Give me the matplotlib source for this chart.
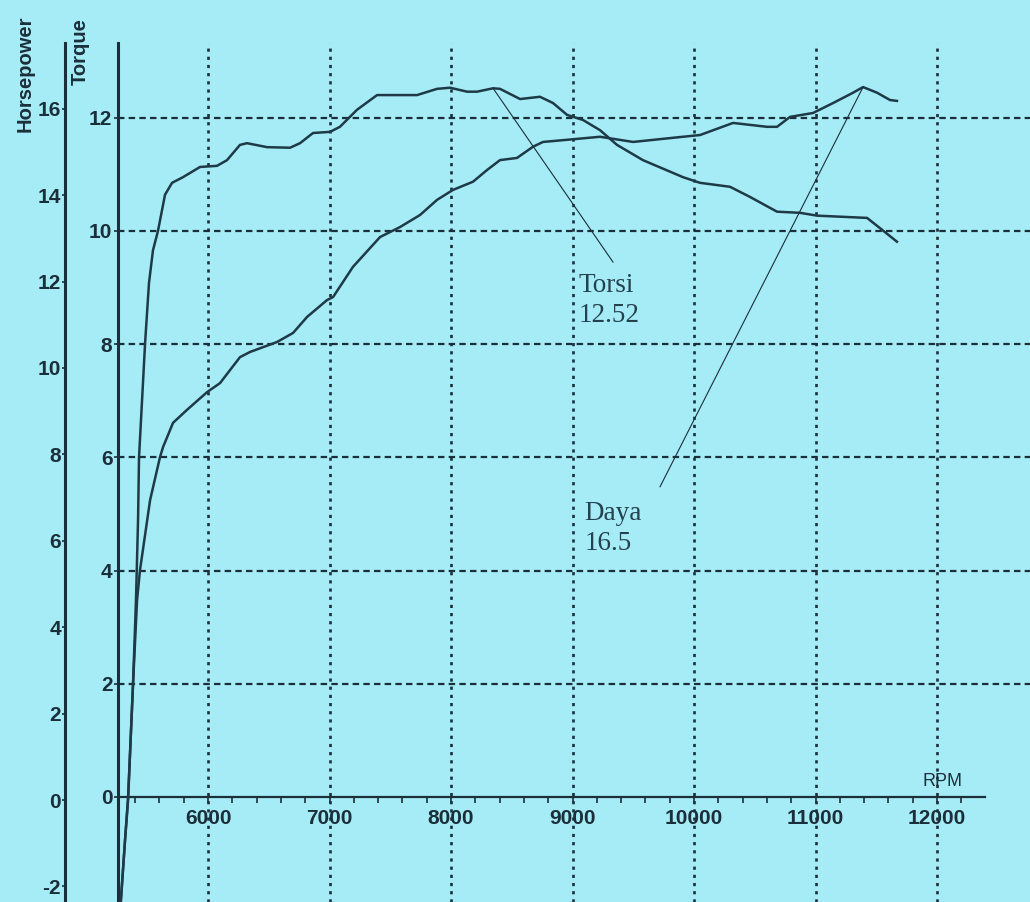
import matplotlib
matplotlib.use("Agg")
import matplotlib.pyplot as plt

# Warna
BG = "#a6ecf7"
INK = "#1b2f3a"
CURVE = "#1e3a47"

# Data dyno
torque_rpm = [5268, 5317, 5342, 5383, 5407, 5424, 5432, 5457, 5482, 5514, 5547, 5588,
              5646, 5704, 5794, 5934, 6074, 6156, 6263, 6321, 6486, 6675, 6757, 6864,
              7004, 7086, 7226, 7391, 7720, 7885, 7992, 8132, 8214, 8346, 8403, 8568,
              8732, 8839, 8955, 9086, 9226, 9366, 9580, 9909, 10049, 10296, 10461,
              10683, 10872, 11012, 11424, 11530, 11670]
torque_val = [-2.3, -0.76, 0.0, 2.01, 3.48, 4.89, 6.0, 7.01, 8.02, 9.08, 9.66, 10.0,
              10.64, 10.85, 10.95, 11.13, 11.15, 11.25, 11.52, 11.55, 11.48, 11.47,
              11.55, 11.73, 11.75, 11.84, 12.14, 12.40, 12.40, 12.51, 12.53, 12.46,
              12.46, 12.52, 12.51, 12.33, 12.37, 12.26, 12.05, 11.96, 11.78, 11.52,
              11.25, 10.95, 10.85, 10.78, 10.60, 10.34, 10.32, 10.27, 10.23, 10.05, 9.81]

power_rpm = [5268, 5317, 5342, 5383, 5416, 5440, 5523, 5605, 5630, 5712, 5827, 5992,
             6099, 6263, 6346, 6568, 6700, 6815, 6979, 7029, 7193, 7416, 7580, 7745,
             7885, 8016, 8181, 8296, 8403, 8543, 8675, 8757, 8955, 9226, 9498, 9909,
             10049, 10321, 10601, 10683, 10790, 10979, 11144, 11309, 11391, 11506,
             11613, 11670]
power_hp = [-2.9, -0.93, 0.0, 2.71, 4.63, 5.32, 6.94, 7.94, 8.17, 8.73, 9.03, 9.44,
            9.65, 10.25, 10.37, 10.60, 10.81, 11.18, 11.57, 11.64, 12.34, 13.03, 13.26,
            13.54, 13.89, 14.12, 14.31, 14.58, 14.81, 14.86, 15.12, 15.23, 15.28, 15.35,
            15.23, 15.35, 15.39, 15.67, 15.58, 15.58, 15.81, 15.90, 16.13, 16.37, 16.5,
            16.37, 16.20, 16.18]

rpm_ticks = [6000, 7000, 8000, 9000, 10000, 11000, 12000]
torque_ticks = [0, 2, 4, 6, 8, 10, 12]
hp_ticks = [-2, 0, 2, 4, 6, 8, 10, 12, 14, 16]

# puncak yang diberi keterangan
torsi_peak = (8346, 12.52)
daya_peak = (11391, 16.5)

W, H = 1030, 902
fig = plt.figure(figsize=(W / 100, H / 100), dpi=100)
fig.patch.set_facecolor(BG)

ax = fig.add_axes([118 / W, 0, 912 / W, 1 - 43 / H])
ax.set_facecolor(BG)
ax.set_xlim(5259, 12765)
ax.set_ylim(-1.855, 13.32)

ax2 = ax.twinx()
ax2.set_ylim(-2.36, 17.52)

# sumbu
for s in ["top", "right"]:
    ax.spines[s].set_visible(False)
for s in ["top", "right", "bottom"]:
    ax2.spines[s].set_visible(False)
ax.spines["bottom"].set_position(("data", 0))
ax.spines["bottom"].set_bounds(5259, 12395)
ax.spines["bottom"].set_linewidth(1.6)
ax.spines["bottom"].set_color(INK)
ax.spines["left"].set_linewidth(2.2)
ax.spines["left"].set_color(INK)

ax2.yaxis.tick_left()
ax2.yaxis.set_label_position("left")
ax2.spines["left"].set_visible(True)
ax2.spines["left"].set_position(("axes", -53 / 912))
ax2.spines["left"].set_linewidth(2.2)
ax2.spines["left"].set_color(INK)

tick_font = dict(fontsize=15, fontweight="bold", color=INK, family="Liberation Sans")

ax.set_xticks(rpm_ticks)
ax.set_xticklabels([str(r) for r in rpm_ticks], **tick_font)
ax.set_xticks(range(5400, 12400, 200), minor=True)
ax.tick_params(axis="x", which="both", direction="out", length=4, width=1.2,
               color=INK, pad=5)

ax.set_yticks(torque_ticks)
ax.set_yticklabels([str(t) for t in torque_ticks], **tick_font)
ax.tick_params(axis="y", direction="out", length=3, width=1.2, color=INK, pad=1)

ax2.set_yticks(hp_ticks)
ax2.set_yticklabels([str(h) for h in hp_ticks], **tick_font)
ax2.tick_params(axis="y", direction="out", length=2, width=1.2, color=INK, pad=1)

# grid manual (tanpa garis di 0)
for t in torque_ticks[1:]:
    ax.axhline(t, color=INK, lw=1.6, ls=(0, (2.9, 1.9)), zorder=1)
for r in rpm_ticks:
    ax.axvline(r, color=INK, lw=1.9, ls=(0, (1.2, 1.9)), zorder=1)

# kurva
ax.plot(torque_rpm, torque_val, color=CURVE, lw=1.8, zorder=3)
ax2.plot(power_rpm, power_hp, color=CURVE, lw=1.8, zorder=3)

# garis keterangan
ax.plot([torsi_peak[0], 9333], [torsi_peak[1], 9.45], color=INK, lw=0.8, zorder=3)
ax2.plot([daya_peak[0], 9720], [daya_peak[1], 7.25], color=INK, lw=0.8, zorder=3)

serif = dict(fontsize=19.5, color="#24424e", family="Liberation Serif",
             linespacing=1.25, va="top", ha="left")
ax.text(9050, 9.26, "Torsi\n12.52", **serif)
ax2.text(9100, 6.92, "Daya\n16.5", **serif)

ax.text(11880, 0.12, "RPM", fontsize=13, color=INK, family="Liberation Sans",
        ha="left", va="bottom")

# judul sumbu
fig.text(25 / W, 1 - 74 / H, "Horsepower", rotation=90, ha="center", va="center",
         fontsize=14.5, fontweight="bold", color=INK, family="Liberation Sans")
fig.text(80 / W, 1 - 52 / H, "Torque", rotation=90, ha="center", va="center",
         fontsize=14.5, fontweight="bold", color=INK, family="Liberation Sans")

fig.savefig("out.png", dpi=100, facecolor=BG)
